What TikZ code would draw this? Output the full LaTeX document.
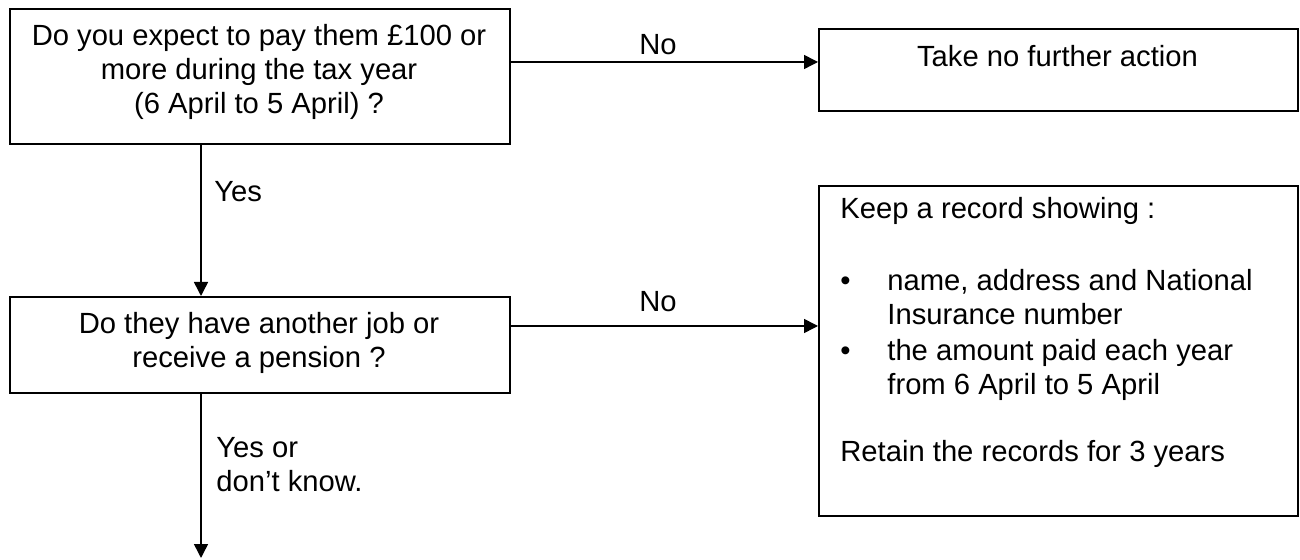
\documentclass[tikz,border=0pt]{standalone}
\usepackage{fontspec}
\setmainfont{Liberation Sans}
\usetikzlibrary{arrows.meta}
\begin{document}
\begin{tikzpicture}[x=0.5pt,y=-0.5pt,
  box/.style={draw=black, line width=1pt, rectangle, inner sep=0pt, anchor=north west},
  txt/.style={inner sep=0pt, font=\fontsize{14.6pt}{17pt}\selectfont},
  conn/.style={line width=0.75pt, -{Triangle[length=7pt,width=7pt]}}]
\useasboundingbox (0,0) rectangle (1300,560);
% boxes
\node[box, minimum width=250pt, minimum height=67.5pt] (q1) at (9,8) {};
\node[txt, align=center, anchor=north] (q1t) at (259,24) {Do you expect to pay them £100 or\\more during the tax year\\(6 April to 5 April) ?};
\node[box, minimum width=239.5pt, minimum height=41pt] (na) at (818,28) {};
\node[txt, anchor=base] (nat) at (1057.5,67) {Take no further action};
\node[box, minimum width=250pt, minimum height=48pt] (q2) at (9,296) {};
\node[txt, align=center, anchor=north] (q2t) at (259,312) {Do they have another job or\\receive a pension ?};
\node[box, minimum width=239.5pt, minimum height=165pt] (rec) at (818,185) {};
\node[txt, align=left, anchor=north west] (rect) at (840,197) {Keep a record showing :\\[19pt]
\makebox[23.5pt][l]{•}name, address and National\\
\hspace*{23.5pt}Insurance number\\[1pt]
\makebox[23.5pt][l]{•}the amount paid each year\\
\hspace*{23.5pt}from 6 April to 5 April\\[16.5pt]
Retain the records for 3 years};
% helper coordinates
\coordinate (y1) at (0,62);
\coordinate (y2) at (0,326);
\coordinate (x1) at (201,0);
\coordinate (end) at (201,558);
% connectors
\draw[conn] (q1.east |- y1) -- (na.west |- y1);
\draw[conn] (q1.south -| x1) -- (q2.north -| x1);
\draw[conn] (q2.east |- y2) -- (rec.west |- y2);
\draw[conn] (q2.south -| x1) -- (end);
% labels
\node[txt, anchor=base] (l1) at (658,55) {No};
\node[txt, anchor=base] (l2) at (658,312) {No};
\node[txt, anchor=base west] (l3) at (214,202) {Yes};
\node[txt, align=left, anchor=north west] (l4) at (216,437) {Yes or\\don’t know.};
\end{tikzpicture}
\end{document}
